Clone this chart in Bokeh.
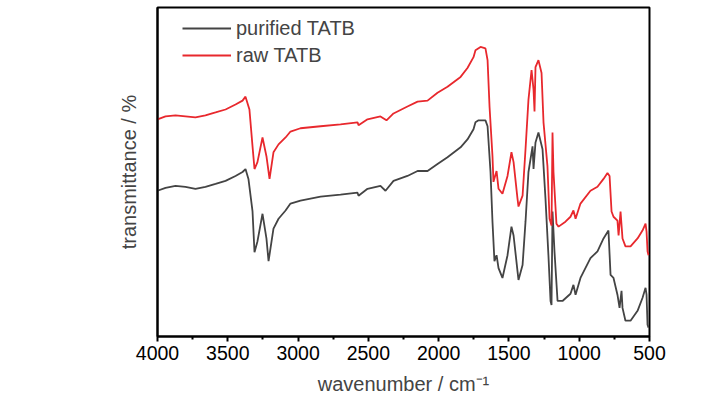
from bokeh.plotting import figure
from bokeh.models import Range1d, FixedTicker, Legend, LegendItem
from bokeh.embed import file_html
from bokeh.resources import INLINE

# wavenumber (cm^-1) and transmittance (arbitrary %)
wn_purified = [4000, 3943, 3872, 3801, 3730, 3659, 3587, 3516, 3445, 3395, 3374, 3353, 3324,
               3310, 3289, 3253, 3225, 3210, 3175, 3139, 3089, 3054, 2983, 2840, 2698, 2577,
               2570, 2506, 2414, 2378, 2321, 2222, 2150, 2079, 2008, 1937, 1844, 1795, 1752,
               1738, 1716, 1667, 1652, 1631, 1617, 1603, 1588, 1574, 1546, 1510, 1482, 1467,
               1439, 1432, 1403, 1382, 1361, 1332, 1325, 1311, 1290, 1261, 1240, 1219, 1204,
               1197, 1190, 1176, 1154, 1119, 1062, 1041, 1026, 991, 920, 870, 827, 792, 777,
               756, 728, 713, 699, 692, 671, 635, 585, 550, 528, 521, 514, 507]
t_purified = [44.3, 45.2, 45.8, 45.5, 44.9, 45.5, 46.4, 47.3, 48.8, 50.0, 50.9, 47.9, 38.0,
              25.6, 28.9, 37.3, 29.8, 22.9, 32.8, 35.8, 38.3, 40.4, 41.3, 42.5, 43.1, 43.7,
              42.8, 44.9, 45.8, 44.3, 47.3, 48.8, 50.3, 50.3, 52.4, 54.5, 57.5, 59.9, 63.0,
              65.1, 65.7, 65.7, 63.9, 50.0, 34.9, 22.9, 24.7, 20.8, 17.8, 24.7, 33.4, 30.7,
              19.9, 17.2, 21.7, 34.9, 50.0, 57.8, 50.9, 59.0, 62.0, 56.9, 41.9, 24.7, 10.8,
              9.6, 38.0, 25.9, 10.8, 10.8, 13.0, 15.7, 12.7, 17.8, 23.8, 25.9, 29.8, 32.2, 18.7,
              17.8, 12.7, 8.7, 13.9, 8.7, 4.8, 4.8, 7.8, 11.7, 14.8, 12.7, 3.6, 2.7]

wn_raw = [4000, 3943, 3872, 3801, 3730, 3659, 3587, 3516, 3445, 3395, 3374, 3346, 3324,
          3310, 3289, 3253, 3225, 3203, 3175, 3139, 3089, 3054, 2983, 2840, 2698, 2577,
          2570, 2506, 2414, 2371, 2321, 2222, 2150, 2079, 2008, 1937, 1844, 1795, 1752,
          1738, 1702, 1667, 1652, 1638, 1617, 1610, 1588, 1574, 1546, 1510, 1482, 1467,
          1439, 1432, 1403, 1382, 1361, 1339, 1325, 1318, 1311, 1290, 1268, 1254, 1226,
          1211, 1197, 1190, 1183, 1162, 1147, 1098, 1062, 1041, 1026, 991, 920, 870, 827,
          799, 784, 770, 756, 728, 720, 706, 692, 671, 635, 585, 550, 528, 521, 514, 507]
t_raw = [66.0, 66.9, 67.2, 66.9, 66.6, 67.2, 68.1, 69.0, 70.5, 71.7, 72.9, 69.0, 57.8,
         50.9, 53.0, 60.5, 54.8, 47.9, 56.0, 58.4, 60.5, 62.3, 63.3, 63.9, 64.5, 65.1,
         64.2, 66.0, 66.9, 65.7, 67.8, 69.9, 71.4, 71.7, 74.1, 75.9, 78.9, 81.6, 84.9,
         87.0, 88.0, 87.6, 84.0, 69.9, 54.8, 47.0, 50.3, 44.9, 43.4, 48.8, 56.0, 53.0,
         41.9, 39.5, 42.8, 56.9, 72.0, 81.0, 75.0, 68.4, 81.9, 84.0, 80.1, 65.1, 51.8,
         35.8, 33.7, 62.0, 50.0, 34.3, 33.4, 34.9, 36.4, 38.3, 35.8, 40.4, 44.3, 45.5, 47.9,
         49.7, 48.8, 38.0, 36.4, 35.2, 30.7, 38.0, 29.8, 27.4, 27.4, 29.8, 32.2, 34.3, 31.9,
         25.9, 24.7]

x_ticks = [4000, 3500, 3000, 2500, 2000, 1500, 1000, 500]
x_minor_ticks = [3750, 3250, 2750, 2250, 1750, 1250, 750]
series_names = ["purified TATB", "raw TATB"]

FONT = "Liberation Sans"

p = figure(width=668, height=397, output_backend="svg", toolbar_location=None,
           x_range=Range1d(4000, 500), y_range=Range1d(0, 100),
           min_border_left=157, min_border_right=19, min_border_top=7, min_border_bottom=58)
p.background_fill_color = "white"
p.border_fill_color = "white"
p.grid.visible = False
p.outline_line_color = "black"
p.outline_line_width = 2

r1 = p.line(wn_purified, t_purified, line_color="#444444", line_width=1.8)
r2 = p.line(wn_raw, t_raw, line_color="#e8282d", line_width=1.8)

xa = p.xaxis[0]
xa.ticker = FixedTicker(ticks=x_ticks, minor_ticks=x_minor_ticks)
xa.axis_line_width = 2
xa.major_tick_line_width = 2
xa.minor_tick_line_width = 2
xa.major_tick_in = 0
xa.major_tick_out = 5
xa.minor_tick_in = 0
xa.minor_tick_out = 3
xa.major_label_standoff = 4
xa.major_label_text_font = FONT
xa.major_label_text_font_size = "19.5px"
xa.major_label_text_color = "black"
xa.axis_label = "wavenumber / cm\u207b\u00b9"
xa.axis_label_text_font = FONT
xa.axis_label_text_font_size = "20px"
xa.axis_label_text_font_style = "normal"
xa.axis_label_standoff = 10

ya = p.yaxis[0]
ya.ticker = FixedTicker(ticks=[])
ya.axis_line_width = 2
ya.major_tick_line_color = None
ya.minor_tick_line_color = None
ya.axis_label = "transmittance / %"
ya.axis_label_text_font = FONT
ya.axis_label_text_font_size = "20px"
ya.axis_label_text_font_style = "normal"
ya.axis_label_standoff = 18

legend = Legend(items=[LegendItem(label=series_names[0], renderers=[r1]),
                       LegendItem(label=series_names[1], renderers=[r2])],
                location=(25, 269), padding=6, margin=0, spacing=3,
                glyph_width=49, glyph_height=24, label_height=24, label_standoff=5,
                label_text_font=FONT, label_text_font_size="20px",
                background_fill_alpha=0, border_line_color=None)
p.add_layout(legend)

open("out.html", "w").write(file_html(p, INLINE))
